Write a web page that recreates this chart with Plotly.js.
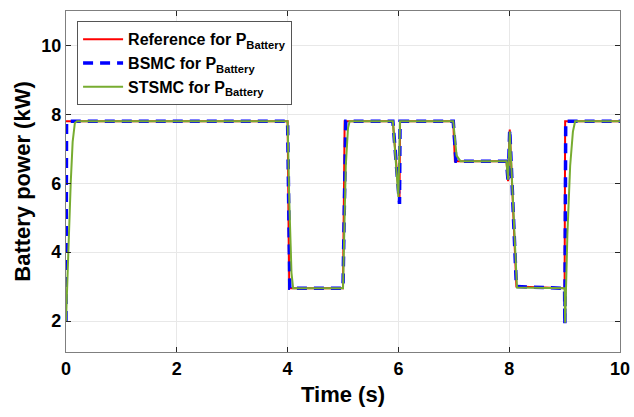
<!DOCTYPE html>
<html>
<head>
<meta charset="utf-8">
<script src="https://cdn.plot.ly/plotly-3.0.1.min.js"></script>
<style>html,body{margin:0;padding:0;background:#fff;}#chart{width:634px;height:417px;}</style>
</head>
<body>
<div id="chart"></div>
<script>
// Reference for P_Battery
const refT = [0, 4.0, 4.03, 5.0, 5.03, 5.9, 6.02, 6.03, 6.99, 7.02, 7.95, 7.98, 8.01, 8.13, 9.0, 9.01, 10];
const refP = [7.8, 7.8, 2.95, 2.95, 7.8, 7.8, 5.4, 7.8, 7.8, 6.64, 6.64, 6.06, 7.56, 3.0, 2.95, 7.8, 7.8];
// BSMC for P_Battery
const bsmcT = [0, 0.01, 4.0, 4.04, 5.0, 5.05, 5.9, 6.02, 6.03, 6.99, 7.04, 7.95, 7.98, 8.01, 8.13, 9.0, 9.005, 9.02, 10];
const bsmcP = [2.0, 7.8, 7.8, 2.95, 2.95, 7.8, 7.8, 5.4, 7.8, 7.8, 6.64, 6.64, 6.06, 7.56, 3.0, 2.95, 1.9, 7.8, 7.8];
// STSMC for P_Battery
const stsmcT = [0, 0.02, 0.04, 0.085, 0.12, 0.16, 0.2, 4.0, 4.03, 4.07, 4.1, 5.0, 5.05, 5.09, 5.12, 5.9, 6.0, 6.03, 6.99, 7.05, 7.12, 7.95, 7.98, 8.01, 8.14, 9.0, 9.01, 9.05, 9.1, 9.15, 9.19, 10];
const stsmcP = [2.0, 3.0, 4.0, 6.0, 7.2, 7.75, 7.8, 7.8, 5.5, 3.4, 2.95, 2.95, 6.5, 7.6, 7.8, 7.8, 5.6, 7.8, 7.8, 6.8, 6.64, 6.64, 6.1, 7.5, 2.97, 2.95, 1.95, 4.5, 6.5, 7.5, 7.8, 7.8];

const seriesNames = ['Reference for P<sub>Battery</sub>', 'BSMC for P<sub>Battery</sub>', 'STSMC for P<sub>Battery</sub>'];
const xTicks = [0, 2, 4, 6, 8, 10];
const yTicks = [2, 4, 6, 8, 10];

const traces = [
  {x: refT, y: refP, name: seriesNames[0], mode: 'lines', line: {color: '#ff0000', width: 2}},
  {x: bsmcT, y: bsmcP, name: seriesNames[1], mode: 'lines', line: {color: '#0000ff', width: 3.5, dash: '10px,7px'}},
  {x: stsmcT, y: stsmcP, name: seriesNames[2], mode: 'lines', line: {color: '#77ac30', width: 2}}
];

const FONT = 'Arial, Liberation Sans, sans-serif';
const axisCommon = {
  showline: true, mirror: 'ticks', linecolor: '#7f7f7f', linewidth: 1.2,
  ticks: 'inside', ticklen: 5, tickcolor: '#262626',
  showgrid: true, gridcolor: '#e8e8e8', gridwidth: 1, zeroline: false,
  tickfont: {family: FONT, size: 18, color: '#000', weight: 'bold'}
};

const layout = {
  width: 634, height: 417,
  margin: {l: 66, r: 14, t: 11, b: 65},
  paper_bgcolor: '#ffffff', plot_bgcolor: '#ffffff',
  showlegend: true,
  legend: {
    x: 0.02, y: 0.97, xanchor: 'left', yanchor: 'top',
    bgcolor: '#ffffff', bordercolor: '#555555', borderwidth: 1,
    font: {family: FONT, size: 16, color: '#000', weight: 'bold'},
    tracegroupgap: 0, itemwidth: 40
  },
  xaxis: Object.assign({}, axisCommon, {
    range: [0, 10], tickvals: xTicks, ticktext: xTicks.map(String),
    title: {text: 'Time (s)', standoff: 8, font: {family: FONT, size: 22, color: '#000', weight: 'bold'}}
  }),
  yaxis: Object.assign({}, axisCommon, {
    range: [1.1, 11], tickvals: yTicks, ticktext: yTicks.map(String),
    title: {text: 'Battery power (kW)', standoff: 4, font: {family: FONT, size: 22, color: '#000', weight: 'bold'}}
  })
};

Plotly.newPlot('chart', traces, layout, {displayModeBar: false, staticPlot: true});
</script>
</body>
</html>
